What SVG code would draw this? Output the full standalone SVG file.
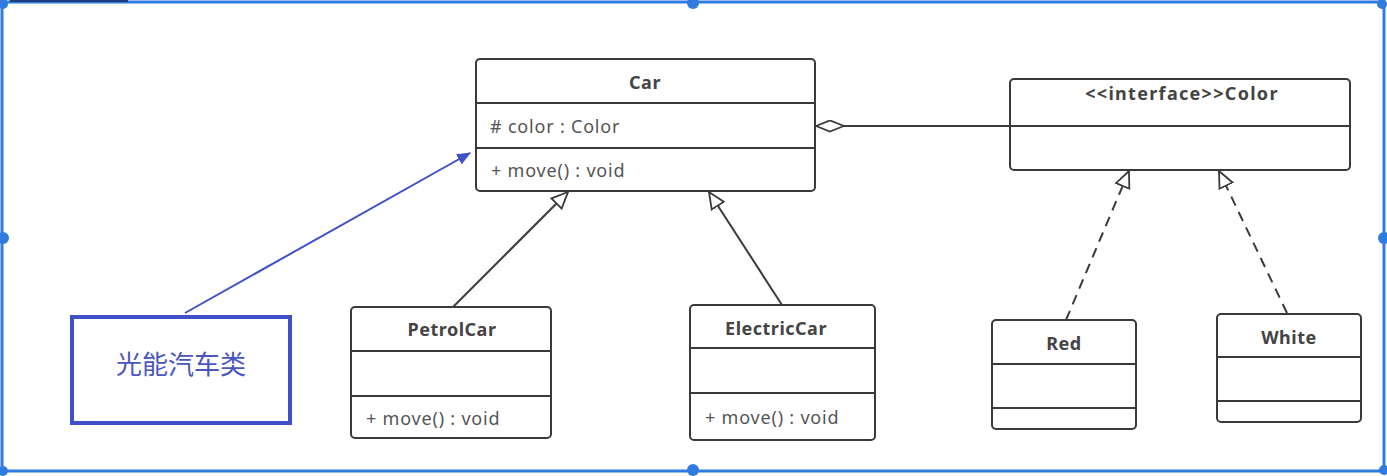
<svg xmlns="http://www.w3.org/2000/svg" width="1387" height="476" viewBox="0 0 1387 476">
<style>
.box{fill:#fff;stroke:#3a3a3a;stroke-width:2}
.sep{stroke:#3a3a3a;stroke-width:2}
.t{font-family:"Noto Sans","Noto Sans CJK SC",sans-serif;font-size:18px;fill:#555;letter-spacing:0.8px}
.b{font-weight:bold;fill:#444;text-anchor:middle;letter-spacing:0.5px}
.c{stroke:#3a3a3a;stroke-width:2;fill:none}
.d{stroke-dasharray:10 7}
.frame{stroke:#2f7be0;stroke-width:3;fill:none}
.h{fill:#2f7be0}
</style>
<defs>
<marker id="tri" viewBox="0 0 20 20" refX="19" refY="10" markerWidth="18" markerHeight="18" markerUnits="userSpaceOnUse" orient="auto">
<path d="M1,2 L19,10 L1,18 Z" fill="#fff" stroke="#3a3a3a" stroke-width="2"/>
</marker>
<marker id="dia" viewBox="0 0 32 14" refX="31" refY="7" markerWidth="30" markerHeight="13" markerUnits="userSpaceOnUse" orient="auto">
<path d="M1,7 L16,1 L31,7 L16,13 Z" fill="#fff" stroke="#3a3a3a" stroke-width="2"/>
</marker>
<marker id="fill" viewBox="0 0 12 10" refX="11" refY="5" markerWidth="14" markerHeight="12" markerUnits="userSpaceOnUse" orient="auto">
<path d="M0,0 L12,5 L0,10 Z" fill="#4050c8"/>
</marker>
</defs>
<rect width="1387" height="476" fill="#fff"/>
<g id="frame">
<line class="frame" x1="2" y1="2" x2="1384" y2="2"/>
<line x1="10" y1="1" x2="128" y2="1" stroke="#1b3f7a" stroke-width="2"/>
<line class="frame" x1="2" y1="2" x2="2" y2="471"/>
<line class="frame" x1="1384" y1="2" x2="1384" y2="471"/>
<line class="frame" x1="2" y1="471" x2="1384" y2="471"/>
<circle class="h" cx="3" cy="4" r="5"/>
<circle class="h" cx="693" cy="3" r="6"/>
<circle class="h" cx="1382" cy="4" r="5"/>
<circle class="h" cx="3" cy="238" r="6"/>
<circle class="h" cx="1384" cy="238" r="6"/>
<circle class="h" cx="3" cy="471" r="5"/>
<circle class="h" cx="693" cy="470" r="6"/>
<circle class="h" cx="1384" cy="470" r="5"/>
</g>
<g id="connectors">
<line class="c" x1="1010" y1="126" x2="816" y2="126" marker-end="url(#dia)"/>
<line class="c" x1="453" y1="307" x2="568" y2="192" marker-end="url(#tri)"/>
<line class="c" x1="782" y1="305" x2="709" y2="192" marker-end="url(#tri)"/>
<line class="c d" x1="1066" y1="320" x2="1129" y2="171" marker-end="url(#tri)"/>
<line class="c d" x1="1287" y1="313" x2="1219" y2="171" marker-end="url(#tri)"/>
<line x1="185" y1="313" x2="470" y2="153" stroke="#4050c8" stroke-width="2" marker-end="url(#fill)"/>
</g>
<g id="Car">
<rect class="box" x="476" y="59" width="339" height="132" rx="4"/>
<line class="sep" x1="476" y1="103" x2="815" y2="103"/>
<line class="sep" x1="476" y1="148" x2="815" y2="148"/>
<text class="t b" x="645" y="89">Car</text>
<text class="t" x="490" y="133"># color : Color</text>
<text class="t" x="491" y="177">+ move() : void</text>
</g>
<g id="Color">
<rect class="box" x="1010" y="79" width="340" height="91" rx="4"/>
<line class="sep" x1="1010" y1="126" x2="1350" y2="126"/>
<text class="t b" x="1182" y="100" style="letter-spacing:1.3px">&lt;&lt;interface&gt;&gt;Color</text>
</g>
<g id="PetrolCar">
<rect class="box" x="351" y="307" width="200" height="131" rx="4"/>
<line class="sep" x1="351" y1="351" x2="551" y2="351"/>
<line class="sep" x1="351" y1="396" x2="551" y2="396"/>
<text class="t b" x="452" y="336">PetrolCar</text>
<text class="t" x="366" y="425">+ move() : void</text>
</g>
<g id="ElectricCar">
<rect class="box" x="690" y="305" width="185" height="135" rx="4"/>
<line class="sep" x1="690" y1="348" x2="875" y2="348"/>
<line class="sep" x1="690" y1="393" x2="875" y2="393"/>
<text class="t b" x="776" y="335">ElectricCar</text>
<text class="t" x="705" y="424">+ move() : void</text>
</g>
<g id="Red">
<rect class="box" x="992" y="320" width="144" height="109" rx="4"/>
<line class="sep" x1="992" y1="364" x2="1136" y2="364"/>
<line class="sep" x1="992" y1="408" x2="1136" y2="408"/>
<text class="t b" x="1064" y="350">Red</text>
</g>
<g id="White">
<rect class="box" x="1217" y="314" width="144" height="108" rx="4"/>
<line class="sep" x1="1217" y1="357" x2="1361" y2="357"/>
<line class="sep" x1="1217" y1="401" x2="1361" y2="401"/>
<text class="t b" x="1289" y="344">White</text>
</g>
<g id="note">
<rect x="72" y="317" width="218" height="106" fill="#fff" stroke="#4050c8" stroke-width="4"/>
<text x="181" y="374" font-family="Noto Sans CJK SC,sans-serif" font-size="26" fill="#4a55c0" text-anchor="middle">光能汽车类</text>
</g>
</svg>
